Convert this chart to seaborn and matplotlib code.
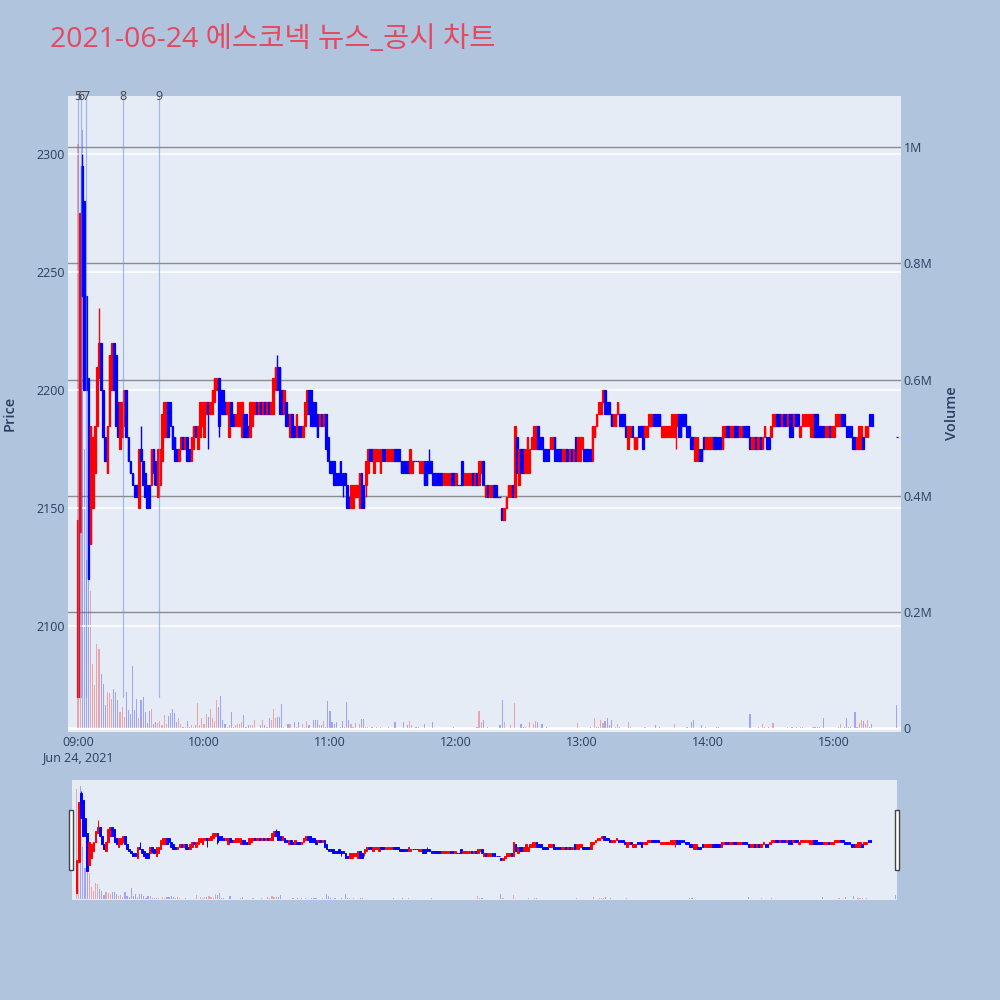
import numpy as np
import pandas as pd
import matplotlib
matplotlib.use("Agg")
import matplotlib.pyplot as plt
import matplotlib.patches as mpatches
import seaborn as sns

# minutes after 09:00 (continuous session, then 15:30 closing auction)
minutes = list(range(379)) + [390]

opens = [
    2070, 2140, 2295, 2280, 2240, 2205, 2135, 2150, 2165, 2185,
    2205, 2220, 2200, 2180, 2165, 2185, 2200, 2220, 2215, 2195,
    2175, 2180, 2185, 2200, 2180, 2170, 2165, 2160, 2160, 2150,
    2175, 2170, 2165, 2160, 2160, 2160, 2175, 2170, 2155, 2160,
    2170, 2180, 2180, 2195, 2195, 2185, 2180, 2175, 2170, 2175,
    2180, 2175, 2180, 2175, 2170, 2175, 2185, 2175, 2180, 2185,
    2180, 2190, 2195, 2190, 2190, 2195, 2200, 2205, 2200, 2200,
    2195, 2190, 2180, 2195, 2190, 2185, 2185, 2185, 2180, 2190,
    2190, 2185, 2180, 2185, 2190, 2195, 2190, 2195, 2190, 2195,
    2190, 2195, 2190, 2190, 2200, 2210, 2210, 2200, 2190, 2195,
    2190, 2180, 2190, 2185, 2180, 2185, 2185, 2180, 2185, 2190,
    2200, 2200, 2195, 2195, 2190, 2185, 2190, 2185, 2190, 2180,
    2170, 2170, 2170, 2165, 2165, 2170, 2165, 2165, 2160, 2155,
    2150, 2150, 2155, 2155, 2150, 2165, 2160, 2160, 2165, 2175,
    2175, 2165, 2170, 2170, 2165, 2175, 2175, 2170, 2170, 2170,
    2170, 2175, 2175, 2175, 2170, 2170, 2170, 2170, 2165, 2165,
    2170, 2170, 2170, 2165, 2165, 2170, 2170, 2170, 2170, 2165,
    2165, 2165, 2165, 2165, 2160, 2160, 2160, 2160, 2165, 2165,
    2160, 2160, 2160, 2170, 2160, 2160, 2160, 2160, 2165, 2160,
    2165, 2160, 2165, 2170, 2155, 2160, 2155, 2155, 2160, 2160,
    2155, 2155, 2150, 2145, 2150, 2155, 2155, 2160, 2155, 2180,
    2160, 2175, 2175, 2165, 2165, 2165, 2175, 2175, 2175, 2185,
    2180, 2180, 2175, 2175, 2175, 2175, 2175, 2180, 2175, 2175,
    2175, 2170, 2170, 2175, 2170, 2175, 2170, 2180, 2170, 2170,
    2175, 2175, 2175, 2175, 2175, 2170, 2180, 2185, 2190, 2190,
    2195, 2200, 2195, 2195, 2190, 2185, 2185, 2190, 2190, 2190,
    2190, 2185, 2175, 2180, 2185, 2175, 2175, 2185, 2185, 2185,
    2180, 2180, 2185, 2185, 2190, 2190, 2190, 2190, 2180, 2180,
    2180, 2180, 2180, 2180, 2180, 2185, 2190, 2190, 2190, 2190,
    2185, 2185, 2180, 2180, 2170, 2170, 2175, 2175, 2180, 2175,
    2175, 2175, 2175, 2180, 2180, 2180, 2180, 2175, 2180, 2185,
    2185, 2180, 2180, 2185, 2185, 2180, 2180, 2185, 2185, 2185,
    2180, 2175, 2175, 2180, 2175, 2180, 2175, 2180, 2180, 2180,
    2180, 2185, 2185, 2190, 2190, 2185, 2190, 2190, 2185, 2190,
    2190, 2185, 2190, 2190, 2180, 2185, 2185, 2185, 2185, 2180,
    2180, 2190, 2190, 2185, 2185, 2185, 2180, 2180, 2185, 2180,
    2180, 2185, 2185, 2185, 2190, 2190, 2185, 2185, 2185, 2180,
    2180, 2175, 2175, 2175, 2180, 2180, 2180, 2190, 2190,
    2180,
]

closes = [
    2145, 2275, 2240, 2200, 2200, 2120, 2185, 2180, 2185, 2210,
    2220, 2200, 2180, 2170, 2185, 2215, 2220, 2200, 2185, 2180,
    2195, 2195, 2200, 2180, 2170, 2165, 2160, 2155, 2155, 2175,
    2170, 2160, 2155, 2150, 2150, 2175, 2165, 2160, 2175, 2175,
    2190, 2195, 2195, 2180, 2185, 2175, 2170, 2170, 2175, 2180,
    2175, 2180, 2170, 2170, 2180, 2185, 2180, 2185, 2195, 2195,
    2195, 2195, 2190, 2195, 2200, 2205, 2205, 2185, 2190, 2190,
    2190, 2195, 2195, 2185, 2185, 2190, 2195, 2195, 2195, 2180,
    2180, 2180, 2195, 2195, 2195, 2190, 2195, 2190, 2195, 2190,
    2195, 2190, 2195, 2205, 2210, 2200, 2190, 2190, 2200, 2185,
    2185, 2190, 2180, 2180, 2190, 2180, 2180, 2185, 2195, 2200,
    2190, 2185, 2185, 2185, 2180, 2190, 2185, 2190, 2175, 2170,
    2165, 2165, 2160, 2160, 2160, 2160, 2160, 2160, 2150, 2150,
    2160, 2160, 2160, 2160, 2165, 2150, 2150, 2170, 2175, 2170,
    2170, 2175, 2175, 2175, 2175, 2170, 2170, 2175, 2175, 2175,
    2175, 2170, 2170, 2170, 2165, 2165, 2165, 2165, 2175, 2170,
    2170, 2170, 2170, 2170, 2170, 2160, 2160, 2165, 2165, 2160,
    2160, 2160, 2160, 2160, 2165, 2165, 2165, 2165, 2160, 2160,
    2165, 2160, 2160, 2160, 2165, 2165, 2165, 2165, 2160, 2165,
    2160, 2170, 2170, 2160, 2160, 2155, 2160, 2160, 2155, 2155,
    2155, 2155, 2145, 2150, 2155, 2160, 2160, 2155, 2185, 2165,
    2175, 2165, 2165, 2175, 2180, 2175, 2180, 2185, 2185, 2175,
    2175, 2175, 2170, 2170, 2170, 2180, 2180, 2170, 2170, 2170,
    2170, 2175, 2175, 2170, 2175, 2170, 2175, 2170, 2180, 2180,
    2180, 2170, 2170, 2170, 2170, 2185, 2185, 2190, 2195, 2195,
    2200, 2190, 2190, 2190, 2185, 2190, 2190, 2195, 2185, 2185,
    2185, 2180, 2185, 2185, 2180, 2180, 2180, 2180, 2180, 2175,
    2185, 2185, 2190, 2190, 2185, 2185, 2185, 2185, 2185, 2185,
    2185, 2185, 2185, 2190, 2190, 2190, 2180, 2180, 2185, 2185,
    2180, 2180, 2175, 2175, 2180, 2180, 2170, 2170, 2175, 2180,
    2180, 2180, 2180, 2175, 2175, 2175, 2175, 2185, 2185, 2180,
    2180, 2185, 2185, 2180, 2180, 2185, 2185, 2180, 2180, 2180,
    2175, 2180, 2180, 2175, 2180, 2175, 2180, 2185, 2175, 2175,
    2185, 2190, 2190, 2185, 2185, 2190, 2185, 2185, 2190, 2180,
    2180, 2190, 2185, 2185, 2185, 2190, 2190, 2190, 2190, 2190,
    2190, 2180, 2180, 2180, 2180, 2180, 2185, 2185, 2180, 2185,
    2185, 2190, 2190, 2190, 2185, 2185, 2180, 2180, 2180, 2175,
    2175, 2180, 2185, 2185, 2175, 2185, 2185, 2185, 2185,
    2180,
]

# volume in thousands of shares
volume_k = [
    1005, 420, 1030, 480, 290, 255, 237, 111, 74, 145,
    137, 94, 77, 40, 63, 60, 51, 68, 63, 48,
    28, 37, 20, 63, 31, 25, 107, 31, 51, 17,
    48, 53, 28, 9, 30, 33, 8, 11, 9, 12,
    5, 22, 8, 21, 26, 34, 26, 11, 17, 8,
    3, 3, 13, 2, 5, 3, 5, 44, 5, 17,
    8, 25, 20, 34, 17, 13, 48, 37, 55, 14,
    8, 3, 5, 28, 3, 5, 7, 7, 11, 22,
    3, 5, 5, 5, 14, 1, 1, 5, 15, 5,
    3, 17, 15, 34, 17, 20, 20, 41, 3, 1,
    7, 7, 1, 10, 3, 10, 1, 8, 3, 12,
    5, 1, 14, 14, 14, 5, 5, 12, 3, 47,
    30, 10, 7, 10, 1, 3, 12, 3, 46, 14,
    8, 3, 9, 1, 7, 16, 16, 3, 2, 1,
    2, 1, 2, 1, 2, 1, 1, 1, 2, 1,
    1, 10, 1, 1, 1, 10, 1, 5, 12, 5,
    1, 2, 2, 1, 1, 7, 1, 1, 1, 11,
    1, 0, 0, 1, 0, 0, 1, 0, 0, 3,
    0, 0, 1, 0, 1, 0, 0, 0, 0, 1,
    3, 30, 11, 15, 0, 2, 0, 0, 1, 0,
    1, 5, 48, 10, 0, 0, 5, 0, 44, 1,
    0, 7, 3, 2, 0, 11, 1, 7, 12, 11,
    1, 7, 1, 2, 0, 1, 0, 0, 0, 0,
    0, 0, 1, 0, 0, 0, 1, 0, 9, 0,
    0, 0, 0, 0, 2, 0, 17, 2, 3, 14,
    9, 12, 17, 5, 14, 1, 3, 7, 3, 1,
    0, 0, 10, 3, 1, 0, 1, 0, 1, 0,
    2, 0, 0, 0, 0, 5, 0, 2, 0, 0,
    1, 0, 0, 0, 7, 0, 0, 0, 1, 0,
    2, 1, 10, 14, 0, 0, 1, 5, 0, 2,
    0, 0, 0, 0, 2, 2, 0, 1, 0, 0,
    0, 0, 0, 0, 0, 0, 1, 0, 0, 0,
    24, 0, 0, 0, 3, 0, 8, 3, 0, 2,
    0, 9, 0, 0, 1, 0, 0, 1, 2, 1,
    2, 1, 2, 1, 2, 2, 0, 0, 0, 0,
    2, 2, 2, 2, 0, 17, 1, 0, 0, 1,
    0, 0, 2, 8, 0, 2, 18, 2, 2, 0,
    28, 2, 9, 14, 13, 7, 14, 2, 7,
    40,
]

# wicks that reach beyond the body
wick_high = {2: 2300, 10: 2235, 30: 2185, 95: 2215, 167: 2175}
wick_low = {36: 2160, 62: 2175, 67: 2180, 126: 2155, 137: 2155, 285: 2175}

# news / disclosure markers (minutes after 09:00)
event_minutes = [-0.2, 1.6, 3.8, 21.4, 38.6]
event_labels = ["5", "6", "7", "8", "9"]

hour_ticks = [0, 60, 120, 180, 240, 300, 360]
hour_labels = ["09:00\nJun 24, 2021", "10:00", "11:00", "12:00", "13:00", "14:00", "15:00"]
price_ticks = [2100, 2150, 2200, 2250, 2300]
vol_ticks = [0, 200000, 400000, 600000, 800000, 1000000]
vol_labels = ["0", "0.2M", "0.4M", "0.6M", "0.8M", "1M"]

df = pd.DataFrame({"minute": minutes, "open": opens, "close": closes,
                   "volume": np.array(volume_k) * 1000})
df["high"] = df[["open", "close"]].max(axis=1)
df["low"] = df[["open", "close"]].min(axis=1)
for m, v in wick_high.items():
    df.loc[df.minute == m, "high"] = v
for m, v in wick_low.items():
    df.loc[df.minute == m, "low"] = v
df["color"] = np.where(df.close > df.open, "#ff0000", "#0000ff")

BG = "#b0c4de"
PLOT_BG = "#e5ecf6"
FONT_COLOR = "#2a3f5f"

sns.set_theme(style="darkgrid", rc={"figure.facecolor": BG, "axes.facecolor": PLOT_BG,
                                    "grid.color": "white", "axes.edgecolor": PLOT_BG})
plt.rcParams["font.family"] = ["Open Sans", "Noto Sans CJK KR", "DejaVu Sans"]

fig = plt.figure(figsize=(10, 10), dpi=100)

PRICE_LIM = (2055.4, 2324.6)
VOL_LIM = (-5900, 1088300)


def draw(ax_p, ax_v, xlim, body_lw, wick_lw):
    ax_v.bar(df.minute, df.volume, width=0.55, color=df.color, alpha=0.3, linewidth=0, zorder=2)
    ax_p.vlines(df.minute, df.low, df.high, colors=df.color, linewidth=wick_lw, zorder=3)
    ax_p.bar(df.minute, df.close - df.open, bottom=df.open, width=0.8, color=df.color,
             edgecolor=df.color, linewidth=body_lw, zorder=4)
    ax_p.set_xlim(*xlim)
    ax_p.set_ylim(*PRICE_LIM)
    ax_v.set_ylim(*VOL_LIM)
    ax_p.set_zorder(ax_v.get_zorder() + 1)
    ax_p.patch.set_visible(False)
    ax_v.patch.set_visible(True)
    ax_v.patch.set_facecolor(PLOT_BG)
    for a in (ax_p, ax_v):
        for s in a.spines.values():
            s.set_visible(False)


# main panel
ax = fig.add_axes([0.068, 0.2683, 0.8327, 0.6357])
ax2 = ax.twinx()
draw(ax, ax2, (-4.76, 391.8), 0.9, 1.0)

ax.grid(True, axis="y", color="white", linewidth=1.2, zorder=0)
ax.grid(False, axis="x")
ax2.grid(True, axis="y", color="#8c8c8c", linewidth=1.0)
ax2.grid(False, axis="x")
ax2.axhline(0, color="white", linewidth=2, zorder=1)

ax.set_yticks(price_ticks)
ax.set_xticks(hour_ticks)
ax.set_xticklabels(hour_labels)
ax2.set_yticks(vol_ticks)
ax2.set_yticklabels(vol_labels)
ax.tick_params(axis="y", length=0, pad=2, labelsize=9, labelcolor=FONT_COLOR)
ax.tick_params(axis="x", length=0, pad=3, labelsize=9, labelcolor=FONT_COLOR)
ax2.tick_params(axis="y", length=0, pad=2, labelsize=9, labelcolor=FONT_COLOR)

# event markers
line_bottom = (df.low.min() - PRICE_LIM[0]) / (PRICE_LIM[1] - PRICE_LIM[0])
for m, lab in zip(event_minutes, event_labels):
    ax.axvline(m, ymin=line_bottom, ymax=1, color="#6f8ae0", alpha=0.55, linewidth=0.9, zorder=5)
    ax.text(m, 1.0, lab, transform=ax.get_xaxis_transform(), ha="center", va="center",
            fontsize=9, color="#444444", zorder=6)

# range slider
axr = fig.add_axes([0.072, 0.100, 0.825, 0.120])
axr2 = axr.twinx()
draw(axr, axr2, (-2.2, 390.6), 0.7, 0.7)
for a in (axr, axr2):
    a.grid(False)
    a.set_xticks([])
    a.set_yticks([])
for hx in (0.069, 0.895):
    fig.patches.append(mpatches.Rectangle((hx, 0.130), 0.004, 0.060, transform=fig.transFigure,
                                          facecolor="white", edgecolor="#444444", linewidth=1))

fig.text(0.05, 0.96, "2021-06-24 에스코넥 뉴스_공시 차트", ha="left", va="center",
         fontsize=20.5, color="#e5485f")
fig.text(0.010, 0.587, "Price", rotation=90, ha="center", va="center",
         fontsize=10.5, color=FONT_COLOR, fontweight="semibold")
fig.text(0.952, 0.587, "Volume", rotation=90, ha="center", va="center",
         fontsize=10.5, color=FONT_COLOR, fontweight="semibold")

fig.savefig("out.png", dpi=100, facecolor=BG)
